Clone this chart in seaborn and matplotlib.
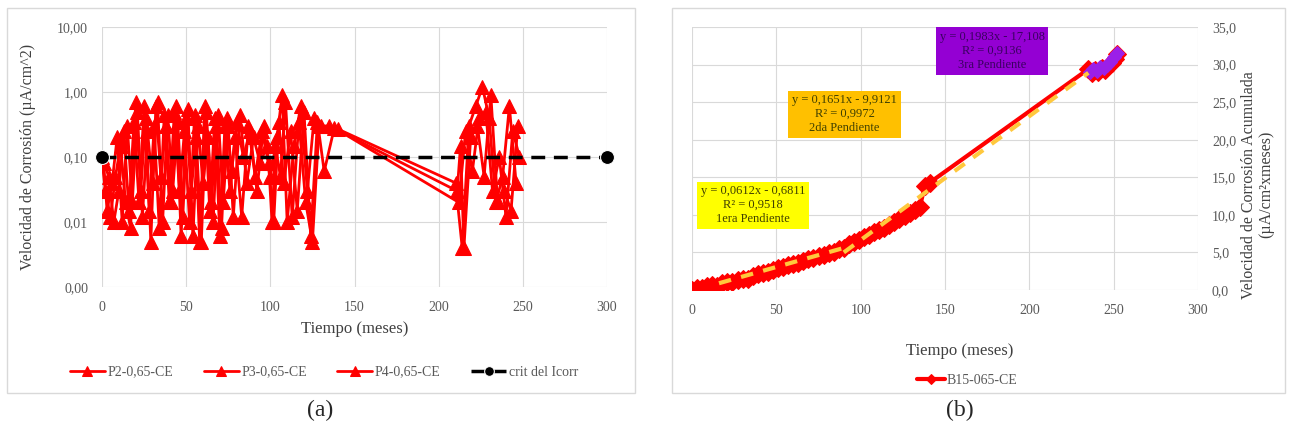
import numpy as np
import pandas as pd
import seaborn as sns
import matplotlib
matplotlib.use("Agg")
import matplotlib.pyplot as plt
from matplotlib.patches import Rectangle

# ---- panel (a): corrosion rate, three probes ----
p2_t = [0, 2, 5, 8, 11, 14, 17, 20, 23, 26, 29, 32, 35, 38, 41, 44, 47, 50, 53, 56,
        59, 62, 65, 68, 71, 74, 77, 80, 84, 88, 92, 96, 100, 104, 107, 110, 114, 118, 122, 126,
        130, 140, 210, 214, 218, 222, 226, 230, 234, 238, 242, 246]
p2_y = [0.09, 0.03, 0.012, 0.05, 0.15, 0.02, 0.008, 0.7, 0.03, 0.4,
        0.005, 0.6, 0.05, 0.3, 0.02, 0.6, 0.006, 0.4, 0.03, 0.2,
        0.005, 0.5, 0.02, 0.3, 0.008, 0.4, 0.06, 0.35, 0.1, 0.25,
        0.03, 0.3, 0.05, 0.2, 0.9, 0.01, 0.15, 0.6, 0.03, 0.4,
        0.3, 0.27, 0.04, 0.004, 0.3, 0.6, 1.2, 0.4, 0.02, 0.05, 0.6, 0.04]

p3_t = [1, 3, 6, 9, 12, 15, 18, 21, 24, 27, 30, 33, 36, 39, 42, 45, 48, 51, 54, 57,
        60, 63, 66, 69, 72, 75, 78, 82, 86, 90, 94, 98, 102, 105, 108, 112, 116, 120, 124, 128,
        132, 138, 212, 216, 220, 224, 228, 232, 236, 240, 244, 248]
p3_y = [0.08, 0.015, 0.04, 0.2, 0.01, 0.3, 0.02, 0.5, 0.012, 0.25,
        0.04, 0.7, 0.01, 0.45, 0.03, 0.35, 0.012, 0.55, 0.006, 0.3,
        0.04, 0.2, 0.01, 0.45, 0.02, 0.3, 0.012, 0.45, 0.04, 0.2,
        0.08, 0.15, 0.01, 0.35, 0.04, 0.25, 0.015, 0.5, 0.006, 0.35,
        0.06, 0.28, 0.02, 0.25, 0.06, 0.4, 0.5, 0.03, 0.1, 0.012, 0.25, 0.1]

p4_t = [0, 4, 7, 10, 13, 16, 19, 22, 25, 28, 31, 34, 37, 40, 43, 46, 49, 52, 55, 58,
        61, 64, 67, 70, 73, 76, 79, 83, 87, 91, 95, 99, 101, 103, 106, 109, 113, 117, 121, 125,
        129, 135, 211, 213, 215, 219, 223, 227, 231, 235, 239, 243, 247]
p4_y = [0.1, 0.05, 0.01, 0.03, 0.25, 0.015, 0.35, 0.02, 0.6, 0.015,
        0.3, 0.008, 0.45, 0.02, 0.5, 0.03, 0.25, 0.01, 0.45, 0.005,
        0.6, 0.015, 0.4, 0.006, 0.3, 0.03, 0.2, 0.012, 0.3, 0.05,
        0.25, 0.08, 0.01, 0.15, 0.05, 0.7, 0.012, 0.35, 0.02, 0.005,
        0.3, 0.3, 0.03, 0.15, 0.004, 0.2, 0.3, 0.05, 0.9, 0.02, 0.03, 0.015, 0.3]

crit_t = [0, 300]
crit_y = [0.1, 0.1]

a_yticks = [0.001, 0.01, 0.1, 1, 10]
a_yticklabels = ["0,00", "0,01", "0,10", "1,00", "10,00"]
x_ticks = [0, 50, 100, 150, 200, 250, 300]

# ---- panel (b): cumulative corrosion ----
cum_t = [0, 3, 6, 9, 12, 15, 18, 21, 24, 27, 30, 33, 36, 39, 42, 45, 48, 51, 54, 57,
         60, 63, 66, 69, 72, 75, 78, 81, 84, 87, 90, 93, 96, 99, 102, 105, 108, 111, 114, 117,
         120, 123, 126, 129, 132, 135, 138, 141, 235, 237, 239, 241, 243, 245, 247, 249, 251, 252]
cum_y = [0.0, 0.3, 0.2, 0.5, 0.6, 0.5, 0.9, 1.0, 1.0, 1.3,
         1.5, 1.5, 1.8, 2.1, 2.2, 2.4, 2.7, 2.9, 3.0, 3.3,
         3.5, 3.6, 3.9, 4.1, 4.2, 4.5, 4.7, 4.9, 5.1, 5.4,
         5.6, 6.1, 6.4, 6.7, 7.0, 7.3, 7.7, 8.0, 8.2, 8.7,
         9.1, 9.4, 9.8, 10.2, 10.6, 11.0, 13.8, 14.3, 29.4, 28.9,
         29.3, 29.0, 29.6, 29.3, 29.9, 30.2, 30.8, 31.4]

third_t = [236, 238, 240, 242, 244, 246, 248, 250, 252]
third_y = [29.0, 29.4, 29.1, 29.7, 29.5, 30.0, 30.4, 31.0, 31.5]

trend1_t = [16, 90]
trend1_y = [0.9, 5.6]
trend2_t = [90, 235]
trend2_y = [5.0, 28.9]

b_yticks = [0, 5, 10, 15, 20, 25, 30, 35]
b_yticklabels = ["0,0", "5,0", "10,0", "15,0", "20,0", "25,0", "30,0", "35,0"]

sns.set_style("white")
plt.rcParams["font.family"] = ["Liberation Serif", "DejaVu Serif"]

tick_col = "#595959"
grid_col = "#D9D9D9"
red = "#FF0000"

fig = plt.figure(figsize=(12.89, 4.32), dpi=100)

# chart frames
fig.patches.append(Rectangle((7 / 1289, 1 - 393 / 432), 628 / 1289, 385 / 432,
                             transform=fig.transFigure, fill=False, ec=grid_col, lw=1))
fig.patches.append(Rectangle((672 / 1289, 1 - 393 / 432), 613 / 1289, 385 / 432,
                             transform=fig.transFigure, fill=False, ec=grid_col, lw=1))

# ---------------- (a) ----------------
ax1 = fig.add_axes([102 / 1289, 1 - 287 / 432, 505 / 1289, 260 / 432])
for t, y, lab in [(p2_t, p2_y, "P2-0,65-CE"), (p3_t, p3_y, "P3-0,65-CE"), (p4_t, p4_y, "P4-0,65-CE")]:
    sns.lineplot(x=t, y=y, ax=ax1, color=red, marker="^", markersize=10,
                 markeredgecolor=red, linewidth=2, sort=False, estimator=None, label=lab)
sns.lineplot(x=crit_t, y=crit_y, ax=ax1, color="black", marker="o", markersize=10,
             linewidth=2.5, linestyle="--", sort=False, estimator=None, label="crit del Icorr")
ax1.lines[-1].set_dashes([4, 2.5])
ax1.lines[-1].set_clip_on(False)

ax1.set_yscale("log")
ax1.set_ylim(0.001, 10)
ax1.set_xlim(0, 300)
ax1.set_yticks(a_yticks)
ax1.set_yticklabels(a_yticklabels)
ax1.minorticks_off()
ax1.set_xticks(x_ticks)
ax1.grid(True, color=grid_col, lw=0.8)
ax1.set_axisbelow(True)
for s in ax1.spines.values():
    s.set_visible(False)
ax1.tick_params(length=0, labelsize=10, colors=tick_col, pad=10)
ax1.set_xlabel("Tiempo (meses)", fontsize=12, color="#404040")
ax1.xaxis.set_label_coords(0.5, -0.13)
ax1.set_ylabel("Velocidad de Corrosión (µA/cm^2)", fontsize=11.5, color="#404040")
ax1.yaxis.set_label_coords(-0.13, 0.5)
h1, l1 = ax1.get_legend_handles_labels()
ax1.legend(h1, l1, loc="center", bbox_to_anchor=(324 / 1289, 1 - 372 / 432),
           bbox_transform=fig.transFigure, ncol=4, frameon=False, fontsize=10,
           labelcolor=tick_col, handlelength=2.5, columnspacing=2.2, handletextpad=0.2,
           markerscale=0.7)

# ---------------- (b) ----------------
ax2 = fig.add_axes([692 / 1289, 1 - 290 / 432, 506 / 1289, 263 / 432])
sns.lineplot(x=cum_t, y=cum_y, ax=ax2, color=red, marker="D", markersize=9,
             markeredgecolor=red, linewidth=3, sort=False, estimator=None, label="B15-065-CE")
sns.lineplot(x=third_t, y=third_y, ax=ax2, color="#9B1FE8", marker="D", markersize=7,
             markeredgecolor="#9B1FE8", linewidth=2, sort=False, estimator=None, legend=False)
for tt, ty in [(trend1_t, trend1_y), (trend2_t, trend2_y)]:
    sns.lineplot(x=tt, y=ty, ax=ax2, color="#FFC83D", linewidth=3, linestyle="--",
                 sort=False, estimator=None, legend=False)
    ax2.lines[-1].set_dashes([3, 2.5])

ax2.set_xlim(0, 300)
ax2.set_ylim(0, 35)
ax2.set_xticks(x_ticks)
ax2.set_yticks(b_yticks)
ax2.set_yticklabels(b_yticklabels)
ax2.yaxis.tick_right()
ax2.yaxis.set_label_position("right")
ax2.grid(True, color=grid_col, lw=0.8)
ax2.set_axisbelow(True)
for s in ax2.spines.values():
    s.set_visible(False)
ax2.tick_params(length=0, labelsize=10, colors=tick_col, pad=10)
ax2.set_xlabel("Tiempo (meses)", fontsize=12, color="#404040")
ax2.xaxis.set_label_coords(0.53, -0.2)
ax2.set_ylabel("Velocidad de Corrosión Acumulada\n(µA/cm²xmeses)", fontsize=11.5,
               color="#404040", rotation=90, linespacing=1.1)
ax2.yaxis.label.set_va("center")
ax2.yaxis.label.set_ha("center")
ax2.yaxis.set_label_coords(1.117, 0.40)

box_kw = dict(ha="center", va="center", fontsize=9, color="#404000", linespacing=1.2)
ax2.text(36, 11.3, "y = 0,0612x - 0,6811\nR² = 0,9518\n1era Pendiente",
         bbox=dict(boxstyle="square,pad=0.3", fc="#FFFF00", ec="none"), **box_kw)
ax2.text(90.5, 23.4, "y = 0,1651x - 9,9121\nR² = 0,9972\n2da Pendiente",
         bbox=dict(boxstyle="square,pad=0.3", fc="#FFC000", ec="none"), **box_kw)
ax2.text(178, 31.8, "y = 0,1983x - 17,108\nR² = 0,9136\n3ra Pendiente",
         bbox=dict(boxstyle="square,pad=0.3", fc="#9400D3", ec="none"),
         ha="center", va="center", fontsize=9, color="#3A0060", linespacing=1.2)

h2, l2 = ax2.get_legend_handles_labels()
ax2.legend(h2, l2, loc="center", bbox_to_anchor=(967 / 1289, 1 - 380 / 432),
           bbox_transform=fig.transFigure, frameon=False, fontsize=10,
           labelcolor=tick_col, handlelength=2.0, handletextpad=0.1, markerscale=0.6)

fig.text(320 / 1289, 1 - 410 / 432, "(a)", fontsize=17, ha="center", va="center")
fig.text(960 / 1289, 1 - 410 / 432, "(b)", fontsize=17, ha="center", va="center")

fig.savefig("out.png", dpi=100)
